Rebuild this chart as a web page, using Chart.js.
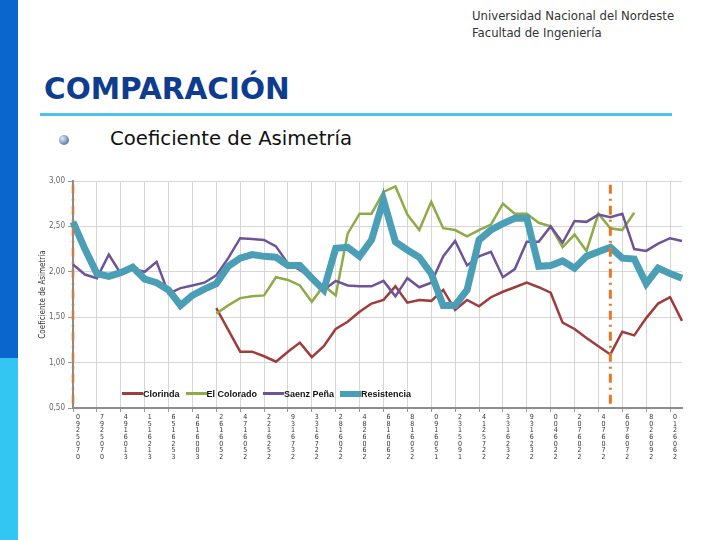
<!DOCTYPE html>
<html>
<head>
<meta charset="utf-8">
<script src="https://cdn.jsdelivr.net/npm/chart.js@4.4.0/dist/chart.umd.min.js"></script>
<style>
    body { margin: 0; width: 720px; height: 540px; overflow: hidden; background: #fff; position: relative; font-family: "DejaVu Sans", sans-serif; }
    .barra { position: absolute; left: 0; width: 18px; }
    .cabecera { position: absolute; left: 472px; top: 7px; font-family: "Liberation Sans Narrow", "DejaVu Sans Condensed", sans-serif; font-size: 13px; line-height: 17px; color: #333; }
    .titulo { position: absolute; left: 44px; top: 75px; font-size: 29.5px; line-height: 29px; font-weight: bold; color: #0e3c8e; }
    .linea { position: absolute; left: 40px; top: 113px; width: 632px; height: 3px; background: #4dc3e8; }
    .vineta { position: absolute; left: 59px; top: 135px; width: 10px; height: 10px; border-radius: 50%; background: radial-gradient(circle at 35% 35%, #e4eaf3, #5f7fae 70%); }
    .subtitulo { position: absolute; left: 110px; top: 129px; font-size: 19.7px; line-height: 20px; color: #111; }
    #grafico { position: absolute; left: 0; top: 170px; }
    #leyenda { position: absolute; left: 122px; top: 388px; font: bold 9px "Liberation Sans", sans-serif; color: #111; white-space: nowrap; }
    #leyenda span { display: inline-block; vertical-align: middle; }
</style>
</head>
<body>
<div class="barra" style="top:0;height:358px;background:#0a66cc;"></div>
<div class="barra" style="top:358px;height:182px;background:#33c6f2;"></div>
<div class="cabecera">Universidad Nacional del Nordeste<br>Facultad de Ingeniería</div>
<div class="titulo">COMPARACIÓN</div>
<div class="linea"></div>
<div class="vineta"></div>
<div class="subtitulo">Coeficiente de Asimetría</div>
<canvas id="grafico" width="720" height="300"></canvas>
<div id="leyenda"></div>

<script>
// etiquetas del eje x (una cada dos mediciones)
var fechas = ["0925070", "7925070", "4916013", "1516213", "6516253", "4616003", "2616052",
    "4716052", "2216252", "9316732", "3316722", "2816022", "4826062", "6816062", "8816052",
    "0916051", "2315091", "4125722", "3316232", "9316232", "0046022", "2076022", "4076072",
    "6076072", "8026092", "0126062"];

var series = ["Clorinda", "El Colorado", "Saenz Peña", "Resistencia"];

var clorinda = [null, null, null, null, null, null, null, null, null, null, null, null,
    1.60, 1.36, 1.12, 1.12, 1.07, 1.01, 1.12, 1.22, 1.06, 1.18, 1.37, 1.45, 1.56, 1.65,
    1.69, 1.84, 1.66, 1.69, 1.68, 1.80, 1.58, 1.69, 1.62, 1.72, 1.78, 1.83, 1.88, 1.83,
    1.77, 1.44, 1.37, 1.27, 1.18, 1.09, 1.34, 1.30, 1.49, 1.65, 1.72, 1.46];

var elColorado = [null, null, null, null, null, null, null, null, null, null, null, null,
    1.54, 1.63, 1.71, 1.73, 1.74, 1.94, 1.91, 1.85, 1.67, 1.85, 1.74, 2.42, 2.64, 2.64,
    2.88, 2.94, 2.63, 2.46, 2.77, 2.48, 2.46, 2.39, 2.46, 2.52, 2.75, 2.64, 2.64, 2.54,
    2.50, 2.27, 2.41, 2.23, 2.64, 2.48, 2.46, 2.65, null, null, null, null];

var saenzPena = [2.08, 1.97, 1.93, 2.19, 1.98, 2.03, 2.00, 2.11, 1.76, 1.82, 1.85, 1.88,
    1.96, 2.15, 2.37, 2.36, 2.35, 2.28, 2.09, 2.02, 1.93, 1.80, 1.90, 1.85, 1.84, 1.84,
    1.90, 1.73, 1.93, 1.83, 1.88, 2.17, 2.34, 2.07, 2.17, 2.22, 1.94, 2.03, 2.33, 2.33,
    2.50, 2.32, 2.56, 2.55, 2.63, 2.60, 2.64, 2.25, 2.23, 2.31, 2.37, 2.34];

var resistencia = [2.55, 2.25, 1.98, 1.95, 1.99, 2.05, 1.92, 1.88, 1.80, 1.63, 1.74, 1.81,
    1.87, 2.06, 2.15, 2.19, 2.17, 2.16, 2.07, 2.07, 1.93, 1.80, 2.26, 2.27, 2.17, 2.35,
    2.79, 2.33, 2.24, 2.16, 1.98, 1.63, 1.63, 1.80, 2.35, 2.46, 2.53, 2.59, 2.59, 2.06,
    2.07, 2.12, 2.04, 2.17, 2.22, 2.27, 2.15, 2.14, 1.87, 2.04, 1.98, 1.93];

// posiciones de las lineas de corte (naranja)
var cortes = [0, 45];

var colores = ["#9e3d3b", "#8eab48", "#6e5399", "#4a9eb5"];
var grosores = [2.5, 2.5, 2.5, 7];

var categorias = [];
for (var i = 0; i < resistencia.length; i++) {
    categorias.push(i % 2 === 0 ? fechas[i / 2] : "");
}

var fuente = '"Liberation Sans Narrow", "DejaVu Sans Condensed", sans-serif';

var lineasCorte = {
    id: 'lineasCorte',
    afterDatasetsDraw: function (chart) {
        var ctx = chart.ctx;
        var x = chart.scales.x, y = chart.scales.y;
        ctx.save();
        ctx.strokeStyle = '#e87722';
        ctx.lineWidth = 3;
        ctx.setLineDash([9, 5, 2, 5]);
        cortes.forEach(function (c, n) {
            ctx.globalAlpha = n === 0 ? 0.55 : 1;
            var px = x.getPixelForValue(c);
            ctx.beginPath();
            ctx.moveTo(px, y.getPixelForValue(2.96));
            ctx.lineTo(px, y.getPixelForValue(0.53));
            ctx.stroke();
        });
        ctx.restore();
    }
};

var datos = [clorinda, elColorado, saenzPena, resistencia];
var datasets = datos.map(function (d, n) {
    return {
        label: series[n],
        data: d,
        borderColor: colores[n],
        backgroundColor: colores[n],
        borderWidth: grosores[n],
        pointRadius: 0,
        tension: 0,
        spanGaps: false,
        order: 3 - n
    };
});

var grid = function (c) { return c.index % 2 === 0 ? '#d6d6d6' : 'rgba(0,0,0,0)'; };
var marca = function (c) { return c.index % 2 === 0 ? '#999' : 'rgba(0,0,0,0)'; };

new Chart(document.getElementById('grafico'), {
    type: 'line',
    data: { labels: categorias, datasets: datasets },
    options: {
        responsive: false,
        animation: false,
        layout: { padding: { left: 38, top: 11, right: 38, bottom: 0 } },
        plugins: { legend: { display: false }, tooltip: { enabled: false } },
        scales: {
            x: {
                grid: { color: grid, tickColor: marca, tickLength: 4 },
                border: { color: '#8c8c8c', width: 2 },
                ticks: {
                    autoSkip: false, maxRotation: 0, minRotation: 0, padding: 2, labelOffset: 5,
                    color: '#333',
                    font: { family: fuente, size: 7, lineHeight: 0.95 },
                    callback: function (v, i) {
                        var t = this.getLabelForValue(v);
                        return t ? t.split('') : '';
                    }
                },
                afterFit: function (s) { s.height = 62; }
            },
            y: {
                min: 0.5, max: 3.0,
                grid: { color: '#d6d6d6', tickColor: '#999', tickLength: 5 },
                border: { color: '#8c8c8c', width: 2 },
                ticks: {
                    stepSize: 0.5, padding: 3, color: '#666',
                    font: { family: fuente, size: 8 },
                    callback: function (v) { return v.toFixed(2).replace('.', ','); }
                },
                title: {
                    display: true, text: 'Coeficiente de Asimetría', color: '#333',
                    padding: 0, font: { family: fuente, size: 8 }
                },
                afterFit: function (s) { s.width = 35; }
            }
        }
    },
    plugins: [lineasCorte]
});

// leyenda dentro del area del grafico
var leyenda = document.getElementById('leyenda');
series.forEach(function (nombre, n) {
    var muestra = document.createElement('span');
    muestra.style.width = '21px';
    muestra.style.height = (n === 3 ? 6 : 3) + 'px';
    muestra.style.background = colores[n];
    var texto = document.createElement('span');
    texto.textContent = nombre;
    texto.style.marginRight = '6px';
    leyenda.appendChild(muestra);
    leyenda.appendChild(texto);
});
</script>
</body>
</html>
